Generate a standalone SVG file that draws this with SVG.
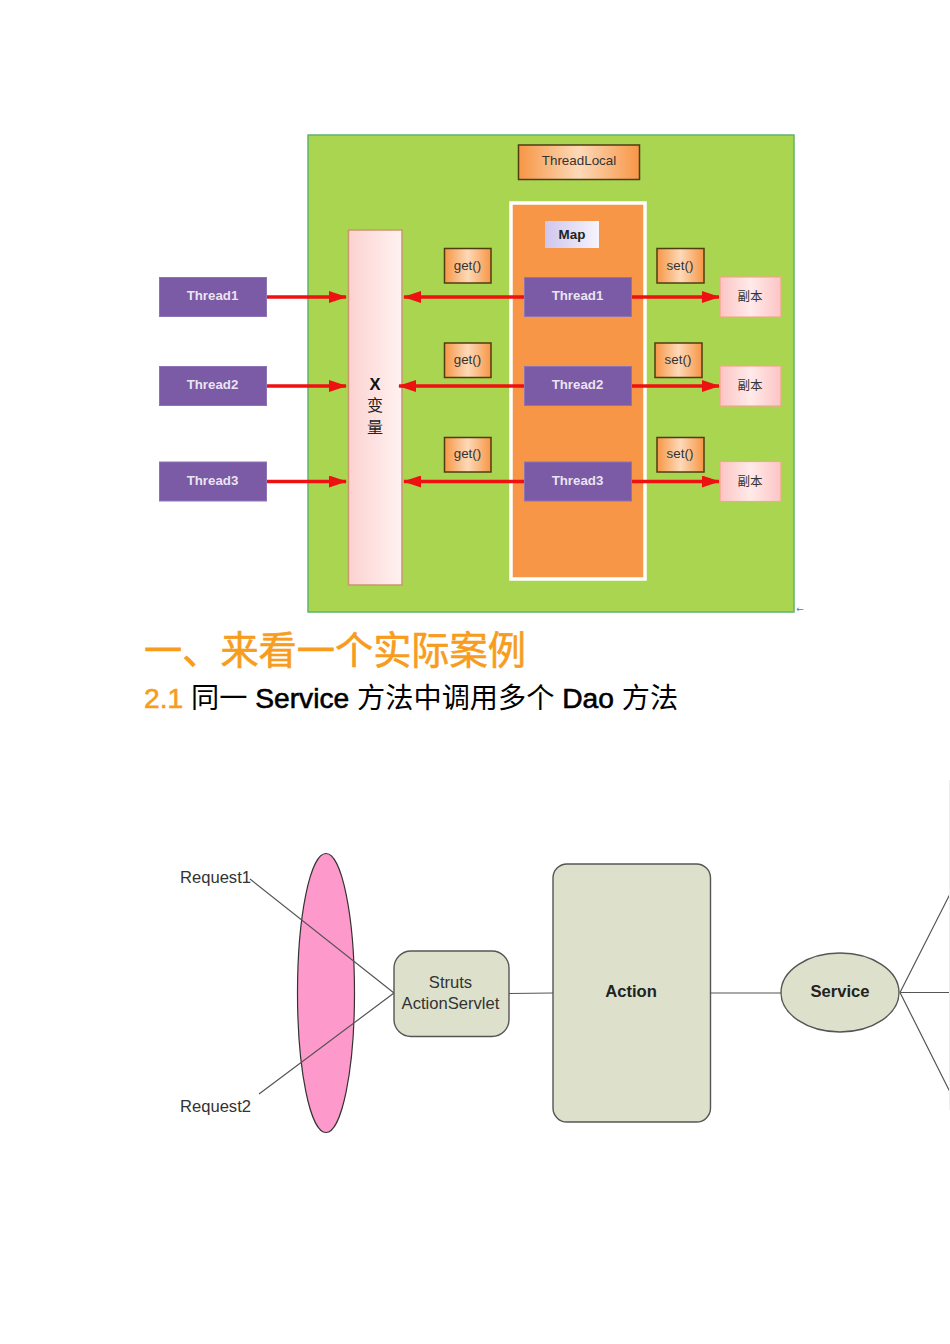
<svg xmlns="http://www.w3.org/2000/svg" width="950" height="1344" viewBox="0 0 950 1344">
<style>
text{font-family:"Liberation Sans","Noto Sans CJK SC",sans-serif;text-anchor:middle}
.t{fill:#fff;fill-opacity:.85;font-size:13.3px;font-weight:bold}
.p{fill:#7b5aa6;stroke:#8f74b5;stroke-width:1}
.o{fill:url(#og);stroke:#4f3d12;stroke-width:1.5}
.b{fill:url(#pg);stroke:#f5a58a;stroke-width:1.2}
.s{font-size:13.400px;fill:#333}
.c{font-size:12.500px;fill:#333}
.r{stroke:#ee1111;stroke-width:3.500;fill:none}
.k{stroke:#555;stroke-width:1.200;fill:none}
.g{fill:#dde1cb;stroke:#555;stroke-width:1.400}
.d{font-size:16.600px;fill:#333}
.h{stroke:#000;stroke-width:.6}
</style>
<defs>
<linearGradient id="og"><stop offset="0" stop-color="#f79646"/><stop offset=".5" stop-color="#fdd9b8"/><stop offset="1" stop-color="#f79646"/></linearGradient>
<linearGradient id="pg"><stop offset="0" stop-color="#fdc4c4"/><stop offset=".5" stop-color="#ffeaea"/><stop offset="1" stop-color="#fdc4c4"/></linearGradient>
<linearGradient id="xg"><stop offset="0" stop-color="#fcd2d0"/><stop offset="1" stop-color="#fff2f2"/></linearGradient>
<linearGradient id="mg"><stop offset="0" stop-color="#cfc6ee"/><stop offset="1" stop-color="#f6f4fc"/></linearGradient>
<marker id="a" viewBox="0 0 18 12" refX="17" refY="6" markerWidth="18" markerHeight="12" markerUnits="userSpaceOnUse" orient="auto-start-reverse"><path d="M0 0L18 6L0 12z" fill="#ee1111"/></marker>
</defs>
<rect width="950" height="1344" fill="#fff"/>
<g id="threadlocal-frame"><rect x="308" y="135" width="486" height="477" fill="#a9d550" stroke="#5fb56c" stroke-width="1.500"/></g>
<g id="map-panel"><rect x="511" y="203" width="134" height="376" fill="#f79646" stroke="#fff" stroke-width="3.500"/></g>
<g id="threadlocal"><rect class="o" x="518.500" y="145" width="121" height="34.500"/><text x="579" y="165" class="s">ThreadLocal</text></g>
<g id="map"><rect x="545" y="221" width="54" height="27" fill="url(#mg)"/><text x="572" y="238.500" font-size="13.400" font-weight="bold" fill="#222">Map</text></g>
<g id="x-var"><rect x="348.500" y="230" width="53.500" height="355" fill="url(#xg)" stroke="#c9966e" stroke-width="1.500"/><text x="375" y="389.500" font-size="16.500" font-weight="bold" fill="#111">X</text><text x="375" y="411" font-size="16" fill="#222">变</text><text x="375" y="433" font-size="16" fill="#222">量</text></g>
<g id="connectors">
<path class="r" marker-end="url(#a)" d="M267 297H346"/><path class="r" marker-end="url(#a)" d="M267 386H346"/><path class="r" marker-end="url(#a)" d="M267 481.500H346"/>
<path class="r" marker-end="url(#a)" d="M525 297H404"/><path class="r" marker-end="url(#a)" d="M525 386H399"/><path class="r" marker-end="url(#a)" d="M525 481.500H404"/>
<path class="r" marker-end="url(#a)" d="M631 297H719"/><path class="r" marker-end="url(#a)" d="M631 386H719"/><path class="r" marker-end="url(#a)" d="M631 481.500H719"/>
</g>
<g id="t1l"><rect class="p" x="159.500" y="277.500" width="107" height="39"/><text class="t" x="212.500" y="300">Thread1</text></g>
<g id="t2l"><rect class="p" x="159.500" y="366.500" width="107" height="39"/><text class="t" x="212.500" y="389">Thread2</text></g>
<g id="t3l"><rect class="p" x="159.500" y="462" width="107" height="39"/><text class="t" x="212.500" y="485">Thread3</text></g>
<g id="t1m"><rect class="p" x="524.500" y="277.500" width="107" height="39"/><text class="t" x="577.500" y="300">Thread1</text></g>
<g id="t2m"><rect class="p" x="524.500" y="366.500" width="107" height="39"/><text class="t" x="577.500" y="389">Thread2</text></g>
<g id="t3m"><rect class="p" x="524.500" y="462" width="107" height="39"/><text class="t" x="577.500" y="485">Thread3</text></g>
<g id="get1"><rect class="o" x="444.500" y="248.500" width="46.500" height="34.500"/><text class="s" x="467.500" y="270">get()</text></g>
<g id="get2"><rect class="o" x="444.500" y="343" width="46.500" height="34.500"/><text class="s" x="467.500" y="364">get()</text></g>
<g id="get3"><rect class="o" x="444.500" y="437.500" width="46.500" height="34.500"/><text class="s" x="467.500" y="458">get()</text></g>
<g id="set1"><rect class="o" x="657" y="248.500" width="47" height="34.500"/><text class="s" x="680" y="270">set()</text></g>
<g id="set2"><rect class="o" x="655" y="343" width="47" height="34.500"/><text class="s" x="678" y="364">set()</text></g>
<g id="set3"><rect class="o" x="657" y="437.500" width="47" height="34.500"/><text class="s" x="680" y="458">set()</text></g>
<g id="c1"><rect class="b" x="720" y="277" width="61" height="40"/><text class="c" x="750" y="301">副本</text></g>
<g id="c2"><rect class="b" x="720" y="366" width="61" height="40"/><text class="c" x="750" y="390">副本</text></g>
<g id="c3"><rect class="b" x="720" y="461.500" width="61" height="40"/><text class="c" x="750" y="486">副本</text></g>
<text x="800" y="612" font-size="9" fill="#777" style="font-family:'DejaVu Sans',sans-serif">←</text>
<text x="144" y="664" font-size="38.200" fill="#f79c1c" stroke="#f79c1c" stroke-width=".6" style="text-anchor:start">一、来看一个实际案例</text>
<text x="144" y="708" font-size="28.200" fill="#000" style="text-anchor:start"><tspan fill="#f79c1c" stroke="#f79c1c" stroke-width=".6">2.1</tspan> 同一 <tspan class="h">Service</tspan> 方法中调用多个 <tspan class="h">Dao</tspan> 方法</text>
<g id="lens"><ellipse cx="326" cy="993" rx="28.500" ry="139.500" fill="#fe99cc" stroke="#333" stroke-width="1.200"/></g>
<g id="lens-lines"><path class="k" d="M250 879L394 993M259 1094L394 993"/></g>
<g id="req1"><text class="d" x="215.500" y="883">Request1</text></g>
<g id="req2"><text class="d" x="215.500" y="1112">Request2</text></g>
<g id="servlet"><rect class="g" x="394" y="951" width="115" height="85.500" rx="17"/><text class="d" x="450.500" y="988">Struts</text><text class="d" x="450.500" y="1008.500">ActionServlet</text></g>
<g id="action"><rect class="g" x="553" y="864" width="157.500" height="258" rx="14"/><text x="631" y="997" font-size="16.600" font-weight="bold" fill="#222">Action</text></g>
<g id="service"><ellipse class="g" cx="840" cy="992.500" rx="59" ry="39.500"/><text x="840" y="997" font-size="16.600" font-weight="bold" fill="#222">Service</text></g>
<g id="links"><path class="k" d="M509 993.500L553 993M710.500 993H781M900 992.500H950M900 992.500L950 894M900 992.500L950 1092"/></g>
<rect x="949" y="780" width="1" height="330" fill="#eee"/>
</svg>
